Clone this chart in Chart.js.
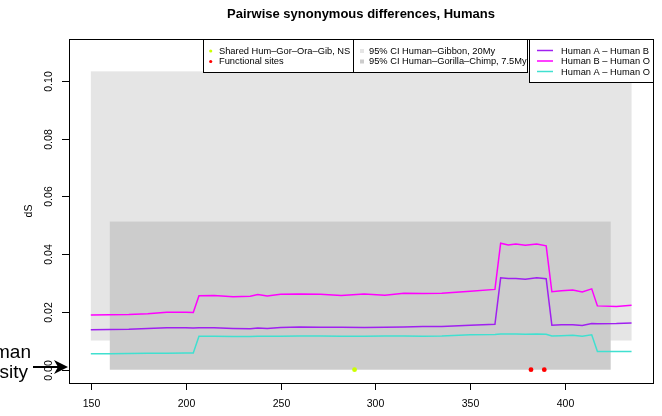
<!DOCTYPE html>
<html>
<head>
<meta charset="utf-8">
<title>Pairwise synonymous differences, Humans</title>
<script src="https://cdn.jsdelivr.net/npm/chart.js@4.4.0/dist/chart.umd.min.js"></script>
<style>
  html, body { margin: 0; padding: 0; background: #fff; }
  #wrap { width: 662px; height: 416px; position: relative; }
</style>
</head>
<body>
<div id="wrap"><canvas id="dsChart" width="662" height="416"></canvas></div>
<script>
// Alignment positions (window centres)
const positions = [150, 160, 170, 180, 190, 200, 204, 207, 215, 225, 234, 238, 243, 250, 260, 271, 282, 294, 305, 315, 325, 335, 350, 363, 366, 370, 374, 379, 385, 390, 393, 398, 404, 409, 414, 417, 427, 435];

// dS series
const humanAB = [0.0138, 0.0139, 0.0140, 0.0143, 0.0145, 0.0145, 0.0144, 0.0145, 0.0145, 0.0143, 0.0142, 0.0144, 0.0143, 0.0146, 0.0148, 0.0147, 0.0147, 0.0146, 0.0147, 0.0148, 0.0150, 0.0150, 0.0154, 0.0157, 0.0318, 0.0316, 0.0316, 0.0313, 0.0318, 0.0315, 0.0154, 0.0156, 0.0156, 0.0153, 0.0160, 0.0159, 0.0160, 0.0162];
const humanBO = [0.0189, 0.0190, 0.0191, 0.0194, 0.0199, 0.0199, 0.0198, 0.0256, 0.0257, 0.0253, 0.0254, 0.0260, 0.0255, 0.0261, 0.0262, 0.0261, 0.0257, 0.0262, 0.0258, 0.0265, 0.0264, 0.0265, 0.0272, 0.0278, 0.0438, 0.0432, 0.0435, 0.0431, 0.0435, 0.0429, 0.0270, 0.0273, 0.0276, 0.0269, 0.0280, 0.0221, 0.0219, 0.0223];
const humanAO = [0.0055, 0.0055, 0.0056, 0.0057, 0.0057, 0.0058, 0.0058, 0.0116, 0.0116, 0.0115, 0.0115, 0.0116, 0.0116, 0.0116, 0.0117, 0.0117, 0.0116, 0.0116, 0.0117, 0.0117, 0.0116, 0.0117, 0.0121, 0.0122, 0.0124, 0.0124, 0.0124, 0.0123, 0.0124, 0.0123, 0.0117, 0.0118, 0.0119, 0.0116, 0.0121, 0.0063, 0.0063, 0.0063];

// Site markers
const sharedSites = [289];
const functionalSites = [382, 389];

// 95% CI bands: [from, to, low, high]
const ciGibbon = [150, 435, 0.0101, 0.1033];
const ciGorillaChimp = [160, 424, 0, 0.0513];

// Axis ticks
const xTicks = [150, 200, 250, 300, 350, 400];
const yTicks = [0, 0.02, 0.04, 0.06, 0.08, 0.10];

const colAB = '#a020f0';
const colBO = '#ff00ff';
const colAO = '#40e0d0';
const colShared = '#ccff00';
const colFunctional = '#ff0000';
const colGibbon = '#e5e5e5';
const colGorilla = '#cccccc';

const FONT = '"Liberation Sans", Arial, sans-serif';

function toXY(values) {
    return positions.map(function(p, i) { return { x: p, y: values[i] }; });
}

function drawBand(ctx, x, y, band, color) {
    const x0 = x.getPixelForValue(band[0]);
    const x1 = x.getPixelForValue(band[1]);
    const y0 = y.getPixelForValue(band[3]);
    const y1 = y.getPixelForValue(band[2]);
    ctx.fillStyle = color;
    ctx.fillRect(x0, y0, x1 - x0, y1 - y0);
}

// CI rectangles behind the lines
const bandsPlugin = {
    id: 'ciBands',
    beforeDatasetsDraw(chart) {
        const { ctx, scales: { x, y } } = chart;
        ctx.save();
        drawBand(ctx, x, y, ciGibbon, colGibbon);
        drawBand(ctx, x, y, ciGorillaChimp, colGorilla);
        ctx.restore();
    }
};

// R-style frame, axes, title, legends and the arrow note
const framePlugin = {
    id: 'rFrame',
    afterDraw(chart) {
        const { ctx, chartArea: a, scales: { x, y } } = chart;
        ctx.save();
        ctx.strokeStyle = '#000';
        ctx.fillStyle = '#000';
        ctx.lineWidth = 1;

        // box
        ctx.strokeRect(a.left + 0.5, a.top + 0.5, a.right - a.left, a.bottom - a.top);

        // x axis
        ctx.font = '10.5px ' + FONT;
        ctx.textAlign = 'center';
        ctx.textBaseline = 'middle';
        xTicks.forEach(function(v) {
            const px = Math.round(x.getPixelForValue(v)) + 0.5;
            ctx.beginPath();
            ctx.moveTo(px, a.bottom);
            ctx.lineTo(px, a.bottom + 7);
            ctx.stroke();
            ctx.fillText(String(v), px, a.bottom + 21);
        });

        // y axis, labels rotated like R
        yTicks.forEach(function(v) {
            const py = Math.round(y.getPixelForValue(v)) + 0.5;
            ctx.beginPath();
            ctx.moveTo(a.left - 7, py);
            ctx.lineTo(a.left, py);
            ctx.stroke();
            ctx.save();
            ctx.translate(a.left - 20, py);
            ctx.rotate(-Math.PI / 2);
            ctx.fillText(v.toFixed(2), 0, 0);
            ctx.restore();
        });

        ctx.save();
        ctx.translate(a.left - 40, (a.top + a.bottom) / 2);
        ctx.rotate(-Math.PI / 2);
        ctx.fillText('dS', 0, 0);
        ctx.restore();

        // title
        ctx.font = 'bold 13px ' + FONT;
        ctx.fillText('Pairwise synonymous differences, Humans', (a.left + a.right) / 2, 14);

        // legends
        ctx.font = '9.3px ' + FONT;
        ctx.textAlign = 'left';
        ctx.fillStyle = '#fff';
        ctx.fillRect(203, 39, 150, 33);
        ctx.fillRect(353, 39, 174, 33);
        ctx.fillRect(529, 39, 124, 43);
        ctx.strokeRect(203.5, 39.5, 150, 33);
        ctx.strokeRect(353.5, 39.5, 174, 33);
        ctx.strokeRect(529.5, 39.5, 124, 43);

        const row1 = 51, row2 = 61.5, row3 = 72;
        ctx.fillStyle = colShared;
        ctx.beginPath(); ctx.arc(210.7, row1, 1.6, 0, Math.PI * 2); ctx.fill();
        ctx.fillStyle = colFunctional;
        ctx.beginPath(); ctx.arc(210.7, row2, 1.6, 0, Math.PI * 2); ctx.fill();
        ctx.fillStyle = '#000';
        ctx.fillText('Shared Hum\u2013Gor\u2013Ora\u2013Gib, NS', 219, row1);
        ctx.fillText('Functional sites', 219, row2);

        ctx.fillStyle = colGibbon;
        ctx.fillRect(360, row1 - 2, 4, 4);
        ctx.fillStyle = colGorilla;
        ctx.fillRect(360, row2 - 2, 4, 4);
        ctx.fillStyle = '#000';
        ctx.fillText('95% CI Human\u2013Gibbon, 20My', 369, row1);
        ctx.fillText('95% CI Human\u2013Gorilla\u2013Chimp, 7.5My', 369, row2);

        ctx.lineWidth = 1.5;
        [[colAB, 'Human A \u2013 Human B', row1], [colBO, 'Human B \u2013 Human O', row2], [colAO, 'Human A \u2013 Human O', row3]].forEach(function(item) {
            ctx.strokeStyle = item[0];
            ctx.beginPath();
            ctx.moveTo(537, item[2] - 0.5);
            ctx.lineTo(553, item[2] - 0.5);
            ctx.stroke();
            ctx.fillStyle = '#000';
            ctx.fillText(item[1], 561, item[2]);
        });

        // "Human diversity" note with arrow
        ctx.fillStyle = '#000';
        ctx.strokeStyle = '#000';
        ctx.font = '19px ' + FONT;
        ctx.textAlign = 'right';
        ctx.textBaseline = 'alphabetic';
        ctx.fillText('Human', 31, 358);
        ctx.fillText('diversity', 28, 378);
        ctx.lineWidth = 2;
        ctx.beginPath();
        ctx.moveTo(33, 367);
        ctx.lineTo(59, 367);
        ctx.stroke();
        ctx.beginPath();
        ctx.moveTo(68, 367);
        ctx.lineTo(54, 360);
        ctx.lineTo(58, 367);
        ctx.lineTo(54, 374);
        ctx.closePath();
        ctx.fill();

        ctx.restore();
    }
};

function lineSet(label, values, color) {
    return {
        label: label,
        data: toXY(values),
        borderColor: color,
        borderWidth: 1.5,
        pointRadius: 0,
        tension: 0,
        fill: false
    };
}

function dotSet(label, sites, color) {
    return {
        type: 'scatter',
        label: label,
        data: sites.map(function(p) { return { x: p, y: 0 }; }),
        backgroundColor: color,
        borderWidth: 0,
        pointRadius: 2.4
    };
}

document.addEventListener('DOMContentLoaded', function() {
    const ctx = document.getElementById('dsChart').getContext('2d');
    new Chart(ctx, {
        type: 'line',
        data: {
            datasets: [
                lineSet('Human A - Human O', humanAO, colAO),
                lineSet('Human A - Human B', humanAB, colAB),
                lineSet('Human B - Human O', humanBO, colBO),
                dotSet('Shared Hum-Gor-Ora-Gib, NS', sharedSites, colShared),
                dotSet('Functional sites', functionalSites, colFunctional)
            ]
        },
        options: {
            responsive: false,
            animation: false,
            events: [],
            layout: { padding: { left: 69, right: 9, top: 39, bottom: 33 } },
            plugins: {
                legend: { display: false },
                tooltip: { enabled: false }
            },
            scales: {
                x: { type: 'linear', display: false, min: 138.5, max: 446.3 },
                y: { type: 'linear', display: false, min: -0.0046, max: 0.1145 }
            }
        },
        plugins: [bandsPlugin, framePlugin]
    });
});
</script>
</body>
</html>
